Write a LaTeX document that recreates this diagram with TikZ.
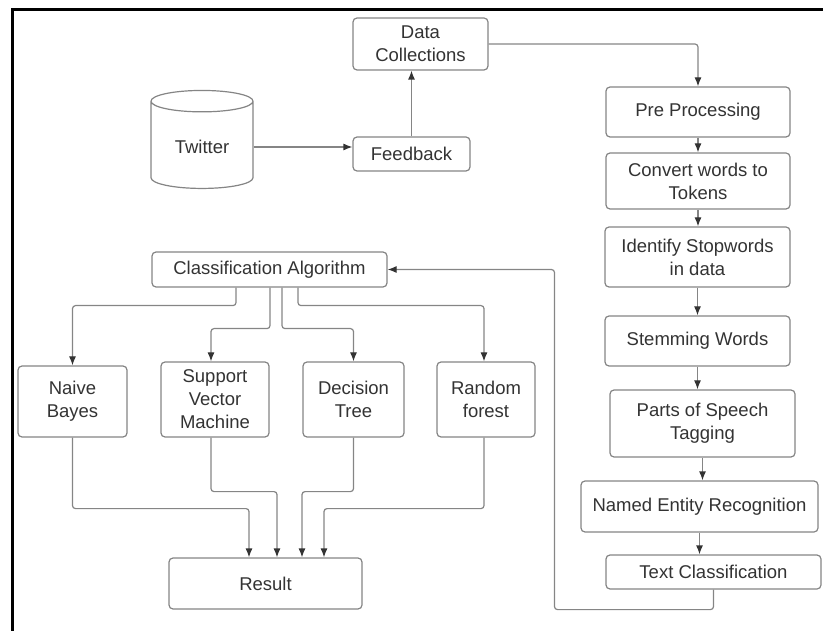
\documentclass[tikz,border=0pt]{standalone}
\usepackage{fontspec}
\setmainfont{Liberation Sans}
\usetikzlibrary{positioning,shapes.geometric,arrows.meta}
\definecolor{edgegray}{HTML}{858585}
\definecolor{inkgray}{HTML}{333333}
\tikzset{
  box/.style={rectangle, rounded corners=4pt, fill=white, draw=edgegray, line width=1.2pt, align=center, text=inkgray},
  store/.style={cylinder, shape border rotate=90, aspect=0.35, fill=white, draw=edgegray, line width=1.2pt, text=inkgray},
  flow/.style={-{Latex[length=9pt,width=7pt,color=inkgray]}, draw=edgegray, line width=1.2pt, rounded corners=3pt}
}
\begin{document}
\begin{tikzpicture}[x=1pt, y=-1pt, font={\fontsize{18.5}{23}\selectfont}]
  \useasboundingbox (0,0) rectangle (823,631);
  \draw[line width=3pt] (12,631) -- (12,10) -- (823,10);
  % sources
  \node [box, minimum width=135pt, minimum height=52pt] (data) at (420.5,44) {Data\\Collections};
  \node [box, minimum width=117pt, minimum height=34pt] (feedback) at (411.5,154) {Feedback};
  \node [store, minimum width=102pt, minimum height=98pt] (twitter) at (202,147) {Twitter};
  % preprocessing chain
  \node [box, minimum width=184pt, minimum height=50pt] (pre) at (698,112) {Pre Processing};
  \node [box, minimum width=184pt, minimum height=56pt] (tokens) at (698,181) {Convert words to\\Tokens};
  \node [box, minimum width=185pt, minimum height=60pt] (stop) at (697.5,257) {Identify Stopwords\\in data};
  \node [box, minimum width=185pt, minimum height=50pt] (stem) at (697.5,341) {Stemming Words};
  \node [box, minimum width=185pt, minimum height=67pt] (pos) at (702.5,423.5) {Parts of Speech\\Tagging};
  \node [box, minimum width=237pt, minimum height=51pt] (ner) at (699.5,506.5) {Named Entity Recognition};
  \node [box, minimum width=215pt, minimum height=34pt] (textcls) at (713.5,572) {Text Classification};
  % classifiers
  \node [box, minimum width=235pt, minimum height=35pt] (classalg) at (269.5,269.5) {Classification Algorithm};
  \node [box, minimum width=109pt, minimum height=71pt] (nb) at (72.5,401.5) {Naive\\Bayes};
  \node [box, minimum width=108pt, minimum height=75pt] (svm) at (215,399.5) {Support\\Vector\\Machine};
  \node [box, minimum width=101pt, minimum height=75pt] (dt) at (353.5,399.5) {Decision\\Tree};
  \node [box, minimum width=98pt, minimum height=75pt] (rf) at (486,399.5) {Random\\forest};
  \node [box, minimum width=193pt, minimum height=51pt] (result) at (265.5,583.5) {Result};

  \draw[flow] (twitter.east) -- (twitter.east -| feedback.west);
  \draw[flow] (feedback.north) -- (feedback.north |- data.south);
  \draw[flow] (data.east) -| (pre.north);
  \foreach \a/\b in {pre/tokens, tokens/stop, stop/stem, stem/pos, pos/ner, ner/textcls}
    \draw[flow] (\a.south) -- (\a.south |- \b.north);
  \draw[flow] (textcls.south) -- ++(0,20) -- ++(-159,0) |- (classalg.east);

  \draw[flow] ([xshift=-33.5pt]classalg.south) -- ++(0,18) -| (nb.north);
  \draw[flow] ([xshift=0.5pt]classalg.south) -- ++(0,41) -| ([xshift=-4pt]svm.north);
  \draw[flow] ([xshift=12.5pt]classalg.south) -- ++(0,41) -| (dt.north);
  \draw[flow] ([xshift=28.5pt]classalg.south) -- ++(0,18) -| ([xshift=-2pt]rf.north);

  \draw[flow] (nb.south) -- ++(0,71) -| ([xshift=-16.5pt]result.north);
  \draw[flow] ([xshift=-4pt]svm.south) -- ++(0,54) -| ([xshift=11.5pt]result.north);
  \draw[flow] (dt.south) -- ++(0,54) -| ([xshift=36.5pt]result.north);
  \draw[flow] ([xshift=-2pt]rf.south) -- ++(0,71) -| ([xshift=58.5pt]result.north);
\end{tikzpicture}
\end{document}
